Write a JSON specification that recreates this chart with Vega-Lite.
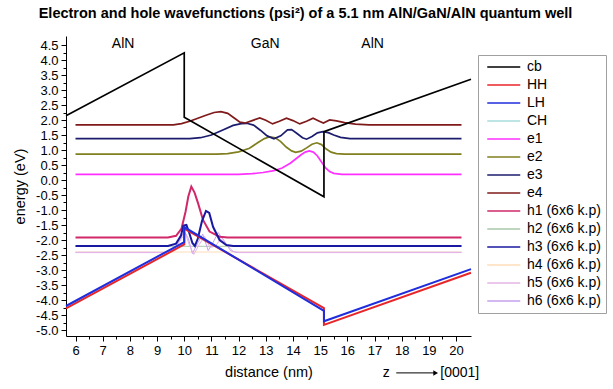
{
  "$schema": "https://vega.github.io/schema/vega-lite/v6.json",
  "width": 405,
  "height": 300,
  "autosize": {"type": "none"},
  "padding": {"left": 66, "top": 36, "right": 142, "bottom": 53},
  "background": "white",
  "title": {"text": "Electron and hole wavefunctions (psi²) of a 5.1 nm AlN/GaN/AlN quantum well", "font": "Liberation Sans", "fontSize": 14.5, "fontWeight": "bold", "color": "#000", "anchor": "middle", "frame": "group", "dx": 37, "baseline": "alphabetic", "offset": 4},
  "config": {
    "font": "Liberation Sans",
    "view": {"stroke": null},
    "axis": {"domainColor": "#000", "tickColor": "#000", "labelColor": "#000", "titleColor": "#000", "labelFont": "Liberation Sans", "titleFont": "Liberation Sans", "labelFontSize": 13, "titleFontSize": 14.5, "titleFontWeight": "normal", "grid": false, "domainWidth": 1, "tickWidth": 1, "labelFlush": false, "labelOverlap": false},
    "legend": {"title": null, "orient": "none", "legendX": 412, "legendY": 19, "symbolType": "M-0.5,0H5.5", "symbolSize": 121, "symbolStrokeWidth": 1.6, "labelFontSize": 14, "labelFont": "Liberation Sans", "labelColor": "#000", "strokeColor": "#a0a0a0", "padding": 5, "rowPadding": 4, "labelOffset": 30, "labelLimit": 200}
  },
  "datasets": {
    "lines": [
      {"s":"CH","i":0,"x":5.65,"y":-4.2},{"s":"CH","i":1,"x":10.0,"y":-2.07},{"s":"CH","i":2,"x":10.0,"y":-1.57},{"s":"CH","i":3,"x":15.14,"y":-4.36},{"s":"CH","i":4,"x":15.14,"y":-4.71},{"s":"CH","i":5,"x":20.55,"y":-2.97},
      {"s":"h2","i":0,"x":6,"y":-2.21},{"s":"h2","i":1,"x":20.2,"y":-2.21},
      {"s":"h4","i":0,"x":6,"y":-2.4},{"s":"h4","i":1,"x":20.2,"y":-2.4},
      {"s":"h6","i":0,"x":6,"y":-2.41},{"s":"h6","i":1,"x":9.3,"y":-2.41},{"s":"h6","i":2,"x":9.6,"y":-2.32},{"s":"h6","i":3,"x":9.85,"y":-2.0},{"s":"h6","i":4,"x":10.0,"y":-1.7},{"s":"h6","i":5,"x":10.15,"y":-1.95},{"s":"h6","i":6,"x":10.3,"y":-2.45},{"s":"h6","i":7,"x":10.5,"y":-2.1},{"s":"h6","i":8,"x":10.68,"y":-1.8},{"s":"h6","i":9,"x":10.88,"y":-2.35},{"s":"h6","i":10,"x":11.05,"y":-2.1},{"s":"h6","i":11,"x":11.25,"y":-1.75},{"s":"h6","i":12,"x":11.45,"y":-2.0},{"s":"h6","i":13,"x":11.7,"y":-2.35},{"s":"h6","i":14,"x":11.9,"y":-2.41},{"s":"h6","i":15,"x":20.2,"y":-2.41},
      {"s":"h5","i":0,"x":6,"y":-2.42},{"s":"h5","i":1,"x":9.3,"y":-2.42},{"s":"h5","i":2,"x":9.65,"y":-2.3},{"s":"h5","i":3,"x":9.9,"y":-1.95},{"s":"h5","i":4,"x":10.05,"y":-1.8},{"s":"h5","i":5,"x":10.2,"y":-2.2},{"s":"h5","i":6,"x":10.35,"y":-2.48},{"s":"h5","i":7,"x":10.55,"y":-2.15},{"s":"h5","i":8,"x":10.75,"y":-1.88},{"s":"h5","i":9,"x":10.95,"y":-2.25},{"s":"h5","i":10,"x":11.15,"y":-2.2},{"s":"h5","i":11,"x":11.35,"y":-1.95},{"s":"h5","i":12,"x":11.55,"y":-2.15},{"s":"h5","i":13,"x":11.8,"y":-2.38},{"s":"h5","i":14,"x":12.0,"y":-2.42},{"s":"h5","i":15,"x":20.2,"y":-2.42},
      {"s":"e1","i":0,"x":6,"y":0.19},{"s":"e1","i":1,"x":12.0,"y":0.19},{"s":"e1","i":2,"x":12.5,"y":0.21},{"s":"e1","i":3,"x":12.9,"y":0.25},{"s":"e1","i":4,"x":13.3,"y":0.31},{"s":"e1","i":5,"x":13.6,"y":0.4},{"s":"e1","i":6,"x":13.9,"y":0.56},{"s":"e1","i":7,"x":14.1,"y":0.7},{"s":"e1","i":8,"x":14.3,"y":0.84},{"s":"e1","i":9,"x":14.45,"y":0.93},{"s":"e1","i":10,"x":14.6,"y":0.97},{"s":"e1","i":11,"x":14.75,"y":0.93},{"s":"e1","i":12,"x":14.9,"y":0.8},{"s":"e1","i":13,"x":15.05,"y":0.6},{"s":"e1","i":14,"x":15.2,"y":0.4},{"s":"e1","i":15,"x":15.35,"y":0.28},{"s":"e1","i":16,"x":15.5,"y":0.22},{"s":"e1","i":17,"x":15.8,"y":0.19},{"s":"e1","i":18,"x":20.2,"y":0.19},
      {"s":"e2","i":0,"x":6,"y":0.86},{"s":"e2","i":1,"x":11.2,"y":0.86},{"s":"e2","i":2,"x":11.6,"y":0.88},{"s":"e2","i":3,"x":12.0,"y":0.94},{"s":"e2","i":4,"x":12.4,"y":1.06},{"s":"e2","i":5,"x":12.7,"y":1.24},{"s":"e2","i":6,"x":12.95,"y":1.38},{"s":"e2","i":7,"x":13.15,"y":1.44},{"s":"e2","i":8,"x":13.35,"y":1.41},{"s":"e2","i":9,"x":13.55,"y":1.28},{"s":"e2","i":10,"x":13.75,"y":1.1},{"s":"e2","i":11,"x":13.95,"y":0.97},{"s":"e2","i":12,"x":14.1,"y":0.92},{"s":"e2","i":13,"x":14.3,"y":0.96},{"s":"e2","i":14,"x":14.5,"y":1.07},{"s":"e2","i":15,"x":14.7,"y":1.19},{"s":"e2","i":16,"x":14.88,"y":1.24},{"s":"e2","i":17,"x":15.05,"y":1.18},{"s":"e2","i":18,"x":15.2,"y":1.05},{"s":"e2","i":19,"x":15.4,"y":0.93},{"s":"e2","i":20,"x":15.6,"y":0.88},{"s":"e2","i":21,"x":15.9,"y":0.86},{"s":"e2","i":22,"x":20.2,"y":0.86},
      {"s":"e3","i":0,"x":6,"y":1.38},{"s":"e3","i":1,"x":10.2,"y":1.38},{"s":"e3","i":2,"x":10.6,"y":1.41},{"s":"e3","i":3,"x":11.0,"y":1.5},{"s":"e3","i":4,"x":11.4,"y":1.66},{"s":"e3","i":5,"x":11.8,"y":1.82},{"s":"e3","i":6,"x":12.1,"y":1.88},{"s":"e3","i":7,"x":12.3,"y":1.89},{"s":"e3","i":8,"x":12.55,"y":1.83},{"s":"e3","i":9,"x":12.8,"y":1.66},{"s":"e3","i":10,"x":13.05,"y":1.47},{"s":"e3","i":11,"x":13.3,"y":1.37},{"s":"e3","i":12,"x":13.55,"y":1.47},{"s":"e3","i":13,"x":13.8,"y":1.67},{"s":"e3","i":14,"x":13.95,"y":1.68},{"s":"e3","i":15,"x":14.15,"y":1.55},{"s":"e3","i":16,"x":14.35,"y":1.41},{"s":"e3","i":17,"x":14.5,"y":1.36},{"s":"e3","i":18,"x":14.7,"y":1.45},{"s":"e3","i":19,"x":14.9,"y":1.57},{"s":"e3","i":20,"x":15.1,"y":1.61},{"s":"e3","i":21,"x":15.3,"y":1.58},{"s":"e3","i":22,"x":15.5,"y":1.5},{"s":"e3","i":23,"x":15.75,"y":1.42},{"s":"e3","i":24,"x":16.1,"y":1.38},{"s":"e3","i":25,"x":20.2,"y":1.38},
      {"s":"e4","i":0,"x":6,"y":1.84},{"s":"e4","i":1,"x":9.6,"y":1.84},{"s":"e4","i":2,"x":9.9,"y":1.88},{"s":"e4","i":3,"x":10.2,"y":1.96},{"s":"e4","i":4,"x":10.5,"y":2.06},{"s":"e4","i":5,"x":10.8,"y":2.16},{"s":"e4","i":6,"x":11.1,"y":2.25},{"s":"e4","i":7,"x":11.35,"y":2.28},{"s":"e4","i":8,"x":11.6,"y":2.22},{"s":"e4","i":9,"x":11.85,"y":2.06},{"s":"e4","i":10,"x":12.05,"y":1.93},{"s":"e4","i":11,"x":12.25,"y":1.9},{"s":"e4","i":12,"x":12.5,"y":1.98},{"s":"e4","i":13,"x":12.78,"y":2.07},{"s":"e4","i":14,"x":13.0,"y":1.99},{"s":"e4","i":15,"x":13.25,"y":1.87},{"s":"e4","i":16,"x":13.5,"y":1.96},{"s":"e4","i":17,"x":13.76,"y":2.06},{"s":"e4","i":18,"x":14.0,"y":1.98},{"s":"e4","i":19,"x":14.25,"y":1.87},{"s":"e4","i":20,"x":14.5,"y":1.96},{"s":"e4","i":21,"x":14.74,"y":2.06},{"s":"e4","i":22,"x":14.95,"y":1.97},{"s":"e4","i":23,"x":15.12,"y":1.9},{"s":"e4","i":24,"x":15.35,"y":2.0},{"s":"e4","i":25,"x":15.6,"y":1.97},{"s":"e4","i":26,"x":15.9,"y":1.91},{"s":"e4","i":27,"x":16.3,"y":1.86},{"s":"e4","i":28,"x":16.8,"y":1.84},{"s":"e4","i":29,"x":20.2,"y":1.84},
      {"s":"cb","i":0,"x":5.65,"y":2.14},{"s":"cb","i":1,"x":10.0,"y":4.24},{"s":"cb","i":2,"x":10.0,"y":2.09},{"s":"cb","i":3,"x":15.14,"y":-0.56},{"s":"cb","i":4,"x":15.14,"y":1.61},{"s":"cb","i":5,"x":20.55,"y":3.36},
      {"s":"h1","i":0,"x":6,"y":-1.92},{"s":"h1","i":1,"x":9.4,"y":-1.92},{"s":"h1","i":2,"x":9.7,"y":-1.86},{"s":"h1","i":3,"x":9.9,"y":-1.62},{"s":"h1","i":4,"x":10.05,"y":-1.05},{"s":"h1","i":5,"x":10.15,"y":-0.55},{"s":"h1","i":6,"x":10.26,"y":-0.22},{"s":"h1","i":7,"x":10.38,"y":-0.42},{"s":"h1","i":8,"x":10.51,"y":-0.78},{"s":"h1","i":9,"x":10.69,"y":-1.33},{"s":"h1","i":10,"x":10.93,"y":-1.72},{"s":"h1","i":11,"x":11.3,"y":-1.89},{"s":"h1","i":12,"x":11.6,"y":-1.92},{"s":"h1","i":13,"x":20.2,"y":-1.92},
      {"s":"h3","i":0,"x":6,"y":-2.2},{"s":"h3","i":1,"x":9.4,"y":-2.2},{"s":"h3","i":2,"x":9.7,"y":-2.12},{"s":"h3","i":3,"x":9.88,"y":-1.85},{"s":"h3","i":4,"x":9.97,"y":-1.52},{"s":"h3","i":5,"x":10.08,"y":-1.5},{"s":"h3","i":6,"x":10.18,"y":-1.75},{"s":"h3","i":7,"x":10.3,"y":-2.1},{"s":"h3","i":8,"x":10.39,"y":-2.2},{"s":"h3","i":9,"x":10.5,"y":-1.95},{"s":"h3","i":10,"x":10.65,"y":-1.38},{"s":"h3","i":11,"x":10.8,"y":-1.03},{"s":"h3","i":12,"x":10.92,"y":-1.1},{"s":"h3","i":13,"x":11.06,"y":-1.56},{"s":"h3","i":14,"x":11.3,"y":-2.0},{"s":"h3","i":15,"x":11.55,"y":-2.17},{"s":"h3","i":16,"x":11.8,"y":-2.2},{"s":"h3","i":17,"x":20.2,"y":-2.2},
      {"s":"HH","i":0,"x":5.65,"y":-4.28},{"s":"HH","i":1,"x":10.0,"y":-2.15},{"s":"HH","i":2,"x":10.0,"y":-1.62},{"s":"HH","i":3,"x":15.14,"y":-4.27},{"s":"HH","i":4,"x":15.14,"y":-4.83},{"s":"HH","i":5,"x":20.55,"y":-3.09},
      {"s":"LH","i":0,"x":5.65,"y":-4.2},{"s":"LH","i":1,"x":10.0,"y":-2.07},{"s":"LH","i":2,"x":10.0,"y":-1.57},{"s":"LH","i":3,"x":15.14,"y":-4.36},{"s":"LH","i":4,"x":15.14,"y":-4.71},{"s":"LH","i":5,"x":20.55,"y":-2.97}
    ],
    "labels": [
      {"t":"AlN","x":7.75,"y":4.55},{"t":"GaN","x":12.98,"y":4.55},{"t":"AlN","x":16.93,"y":4.55}
    ],
    "dirz": [
      {"t":"z","x":17.43,"y":-6.43}
    ],
    "dirlab": [
      {"t":"[0001]","x":19.42,"y":-6.43}
    ],
    "arrow": [
      {"x":17.8,"x2":19.25,"y":-6.43}
    ]
  },
  "encoding": {
    "x": {"field": "x", "type": "quantitative", "scale": {"domain": [5.65, 20.55], "nice": false, "zero": false},
      "axis": {"title": "distance (nm)", "values": [6,6.5,7,7.5,8,8.5,9,9.5,10,10.5,11,11.5,12,12.5,13,13.5,14,14.5,15,15.5,16,16.5,17,17.5,18,18.5,19,19.5,20],
        "labelExpr": "datum.value % 1 == 0 ? format(datum.value, 'd') : ''",
        "tickSize": {"condition": {"test": "datum.value % 1 == 0", "value": 5}, "value": 3},
        "labelPadding": 3, "titlePadding": 8}},
    "y": {"field": "y", "type": "quantitative", "scale": {"domain": [-5.2, 4.8], "nice": false, "zero": false},
      "axis": {"title": "energy (eV)", "values": [-5,-4.75,-4.5,-4.25,-4,-3.75,-3.5,-3.25,-3,-2.75,-2.5,-2.25,-2,-1.75,-1.5,-1.25,-1,-0.75,-0.5,-0.25,0,0.25,0.5,0.75,1,1.25,1.5,1.75,2,2.25,2.5,2.75,3,3.25,3.5,3.75,4,4.25,4.5],
        "labelExpr": "abs(datum.value*2 - round(datum.value*2)) < 0.01 ? replace(format(datum.value, '.1f'), '\u2212', '-') : ''",
        "tickSize": {"condition": {"test": "abs(datum.value*2 - round(datum.value*2)) < 0.01", "value": 5}, "value": 3},
        "labelPadding": 3, "titlePadding": 8}}
  },
  "layer": [
    {
      "data": {"name": "lines"},
      "transform": [{"filter": "indexof(['CH','h2','h4','h5','h6'], datum.s) >= 0"}],
      "mark": {"type": "line", "strokeWidth": 1},
      "encoding": {
        "color": {"field": "s", "type": "nominal",
          "scale": {"domain": ["cb","HH","LH","CH","e1","e2","e3","e4","h1","h2","h3","h4","h5","h6"], "range": ["#000000","#e8262a","#1f2ddc","#a8dcdc","#ff30ff","#7f7f1f","#1c1c6e","#7f1a1a","#d0286a","#a8c8a8","#1818a0","#ffdcb8","#e6b4e6","#c4a0ee"]},
          "legend": {"labelExpr": "substring(datum.label, 0, 1) == 'h' ? datum.label + ' (6x6 k.p)' : datum.label"}},
        "order": {"field": "i", "type": "quantitative"}
      }
    },
    {
      "data": {"name": "lines"},
      "transform": [{"filter": "indexof(['cb','e1','e2','e3','e4'], datum.s) >= 0"}],
      "mark": {"type": "line", "strokeWidth": 1.7},
      "encoding": {
        "color": {"field": "s", "type": "nominal"},
        "order": {"field": "i", "type": "quantitative"}
      }
    },
    {
      "data": {"name": "lines"},
      "transform": [{"filter": "indexof(['HH','LH','h1','h3'], datum.s) >= 0"}],
      "mark": {"type": "line", "strokeWidth": 2},
      "encoding": {
        "color": {"field": "s", "type": "nominal"},
        "order": {"field": "i", "type": "quantitative"}
      }
    },
    {
      "data": {"name": "labels"},
      "mark": {"type": "text", "fontSize": 14, "font": "Liberation Sans", "color": "#000", "baseline": "middle", "align": "center"},
      "encoding": {"text": {"field": "t"}}
    },
    {
      "data": {"name": "dirz"},
      "mark": {"type": "text", "fontSize": 14, "font": "Liberation Sans", "color": "#000", "baseline": "middle", "align": "center"},
      "encoding": {"text": {"field": "t"}}
    },
    {
      "data": {"name": "dirlab"},
      "mark": {"type": "text", "fontSize": 14, "font": "Liberation Sans", "color": "#000", "baseline": "middle", "align": "left"},
      "encoding": {"text": {"field": "t"}}
    },
    {
      "data": {"name": "arrow"},
      "mark": {"type": "rule", "color": "#000", "strokeWidth": 1},
      "encoding": {"x2": {"field": "x2"}}
    },
    {
      "data": {"name": "arrow"},
      "mark": {"type": "point", "shape": "triangle-right", "filled": true, "color": "#000", "size": 30, "opacity": 1},
      "encoding": {"x": {"field": "x2", "type": "quantitative"}}
    }
  ]
}
